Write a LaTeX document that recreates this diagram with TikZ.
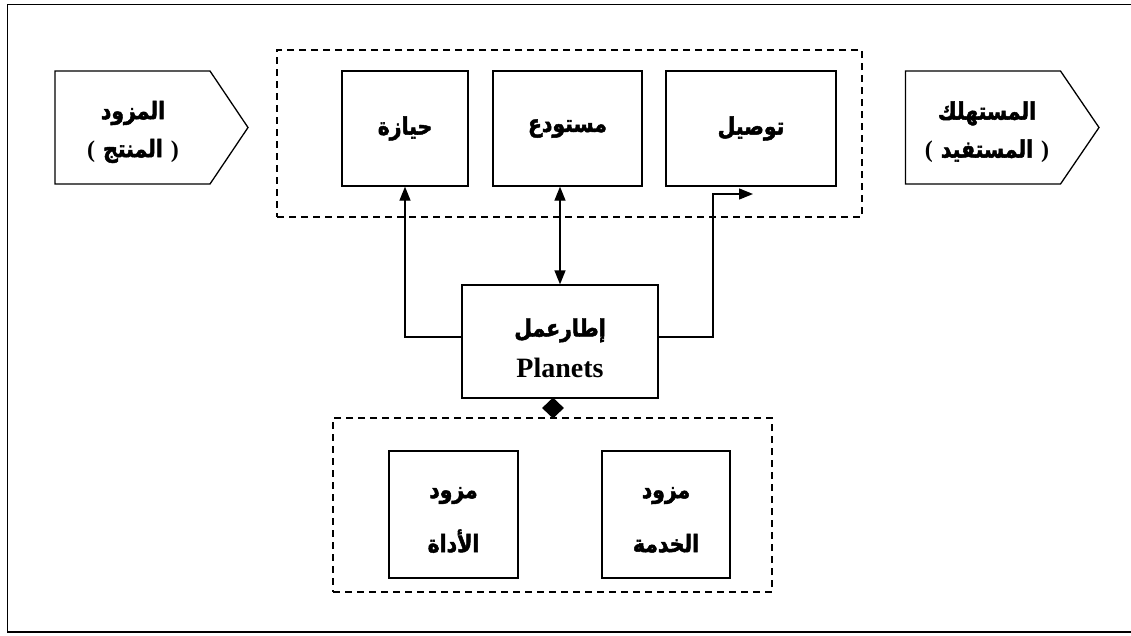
\documentclass[tikz,border=0pt]{standalone}
\usepackage{fontspec}
\setmainfont{Liberation Serif}
\newfontfamily\arabicfont[Script=Arabic,FakeStretch=0.85,FakeBold=2]{DejaVu Sans}
\TeXXeTstate=1
\usetikzlibrary{shapes.geometric,arrows.meta}

\newcommand{\ar}[1]{\beginR #1\endR}
\newcommand{\paren}[1]{{\normalfont\bfseries(}\,\,#1\,\,{\normalfont\bfseries)}}

\begin{document}
\begin{tikzpicture}[x=1pt,y=-1pt,
  solidbox/.style={draw,line width=1.3pt,inner sep=0pt,align=center},
  groupbox/.style={draw,dashed,dash pattern=on 7pt off 5pt,line width=1.3pt,inner sep=0pt},
  artext/.style={font=\arabicfont\bfseries\fontsize{24}{38}\selectfont,align=center},
  pairtext/.style={font=\arabicfont\bfseries\fontsize{24}{54}\selectfont,align=center},
  conn/.style={line width=1.3pt},
  tip/.style={-{Triangle[length=14pt,width=11pt]}},
  bitip/.style={{Triangle[length=14pt,width=11pt]}-{Triangle[length=14pt,width=11pt]}}
]
\useasboundingbox (0,0) rectangle (1131,635);

% outer frame (its right side runs past the page edge)
\draw[line width=1.6pt] (1145,4.5) -- (7.5,4.5) -- (7.5,632) -- (1145,632);

% producer and consumer pentagons
\draw[line width=1.3pt] (55,71) -- (210,71) -- (248,127.5) -- (210,184) -- (55,184) -- cycle;
\node[artext] (producer) at (133,132) {\ar{المزود}\\\paren{\ar{المنتج}}};
\draw[line width=1.3pt] (905.5,71) -- (1060.5,71) -- (1099,127.5) -- (1060.5,184) -- (905.5,184) -- cycle;
\node[artext] (consumer) at (987,132) {\ar{المستهلك}\\\paren{\ar{المستفيد}}};

% top group
\node[groupbox,minimum width=585pt,minimum height=167pt] (topgroup) at (569.5,133.5) {};
\node[solidbox,artext,minimum width=126pt,minimum height=115pt] (hiyaza) at (405,128.5) {\ar{حيازة}};
\node[solidbox,artext,minimum width=149pt,minimum height=115pt] (mustawda) at (567.5,128.5) {\ar{مستودع}};
\node[solidbox,artext,minimum width=170pt,minimum height=115pt] (tawsil) at (751,128.5) {\ar{توصيل}};

% framework box and its two-line title
\node[solidbox,minimum width=196pt,minimum height=113pt] (planets) at (560,341.5) {};
\node[align=center,font=\bfseries\fontsize{28}{41}\selectfont] (planetstitle) at (560,348)
  {{\arabicfont\bfseries\fontsize{24}{41}\selectfont\ar{إطارعمل}}\\Planets};

% connectors
\coordinate (bend) at (713,194);
\coordinate (tawsilin) at (753,194);
\draw[conn,tip] ([yshift=4.5pt]planets.west) -| (hiyaza.south);
\draw[conn,bitip] (planets.north |- mustawda.south) -- (planets.north);
\draw[conn,tip] ([yshift=4.5pt]planets.east) -| (bend) -- (tawsilin);

% bottom group
\node[groupbox,minimum width=439pt,minimum height=174pt] (botgroup) at (552.5,505) {};
\node[diamond,fill=black,inner sep=0pt,minimum width=22pt,minimum height=21pt] (link) at (553,408) {};
\node[solidbox,minimum width=129pt,minimum height=127pt] (toolprov) at (453.5,514.5) {};
\node[pairtext] (toolprovtext) at (453.5,520) {\ar{مزود}\\\ar{الأداة}};
\node[solidbox,minimum width=128pt,minimum height=127pt] (servprov) at (666,514.5) {};
\node[pairtext] (servprovtext) at (666,520) {\ar{مزود}\\\ar{الخدمة}};
\end{tikzpicture}
\end{document}
